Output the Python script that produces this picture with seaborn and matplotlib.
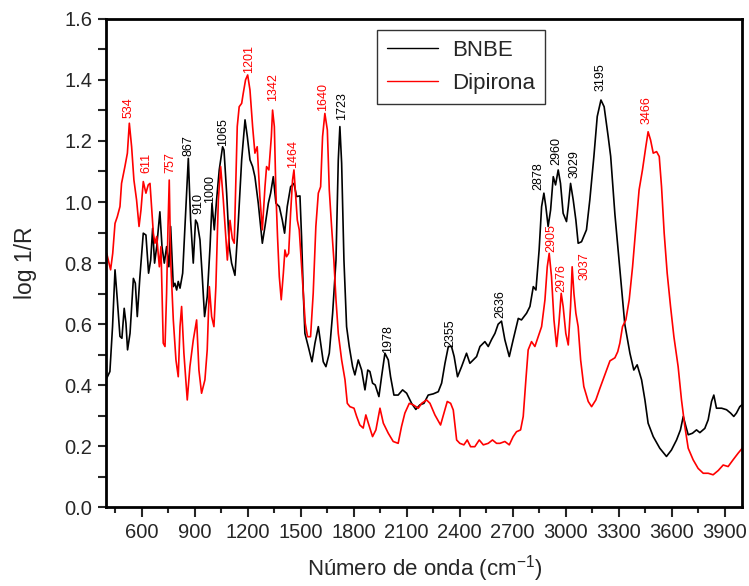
import numpy as np
import pandas as pd
import matplotlib
matplotlib.use("Agg")
import matplotlib.pyplot as plt
from matplotlib.ticker import MultipleLocator, FormatStrFormatter
import seaborn as sns

# ---------------- data ----------------
bnbe_x = [402, 420, 435, 449, 462, 477, 488, 501, 511, 520, 534, 553, 564, 575, 590, 609, 624, 639,
          651, 662, 673, 685, 703, 715, 728, 741, 754, 764, 779, 788, 798, 807, 817, 832, 845, 864,
          877, 892, 905, 915, 930, 943, 956, 971, 987, 998, 1011, 1024, 1039, 1058, 1066, 1081, 1096,
          1109, 1128, 1147, 1166, 1185, 1198, 1213, 1228, 1241, 1260, 1283, 1298, 1317, 1330, 1345,
          1360, 1379, 1396, 1409, 1424, 1443, 1462, 1477, 1496, 1505, 1515, 1524, 1543, 1564, 1581,
          1600, 1613, 1628, 1643, 1662, 1681, 1700, 1713, 1722, 1732, 1745, 1760, 1775, 1794, 1807,
          1826, 1845, 1864, 1880, 1892, 1907, 1922, 1943, 1958, 1977, 1996, 2009, 2028, 2052, 2077,
          2100, 2128, 2152, 2175, 2198, 2222, 2251, 2279, 2298, 2317, 2336, 2354, 2369, 2388, 2411,
          2439, 2458, 2477, 2496, 2515, 2543, 2562, 2581, 2600, 2618, 2637, 2656, 2681, 2703, 2732,
          2750, 2779, 2798, 2817, 2832, 2850, 2864, 2877, 2888, 2901, 2915, 2930, 2943, 2958, 2971,
          2986, 3005, 3015, 3028, 3043, 3058, 3071, 3090, 3118, 3137, 3160, 3179, 3200, 3218, 3241,
          3255, 3279, 3307, 3335, 3364, 3386, 3405, 3430, 3449, 3467, 3496, 3533, 3571, 3599, 3628,
          3650, 3666, 3681, 3694, 3718, 3741, 3760, 3788, 3807, 3826, 3839, 3854, 3883, 3911, 3934,
          3952, 3967, 3986, 3998]
bnbe_y = [0.423, 0.445, 0.592, 0.778, 0.68, 0.56, 0.554, 0.652, 0.603, 0.516, 0.57, 0.75, 0.734, 0.625,
          0.756, 0.898, 0.892, 0.767, 0.81, 0.914, 0.80, 0.854, 0.968, 0.854, 0.80, 0.854, 0.788, 0.92,
          0.723, 0.734, 0.712, 0.74, 0.718, 0.767, 0.92, 1.143, 0.941, 0.80, 0.941, 0.93, 0.876, 0.756,
          0.625, 0.69, 0.854, 0.996, 0.909, 1.007, 1.105, 1.181, 1.17, 1.029, 0.854, 0.80, 0.76, 0.935,
          1.138, 1.269, 1.214, 1.138, 1.116, 1.083, 0.996, 0.865, 0.92, 0.996, 1.029, 1.083, 0.996,
          0.985, 0.941, 0.898, 0.985, 1.05, 1.061, 1.018, 1.02, 0.887, 0.701, 0.57, 0.527, 0.477,
          0.538, 0.592, 0.538, 0.477, 0.461, 0.505, 0.636, 0.81, 1.138, 1.247, 1.127, 0.81, 0.592,
          0.527, 0.461, 0.434, 0.483, 0.45, 0.385, 0.45, 0.445, 0.407, 0.401, 0.363, 0.428, 0.505,
          0.483, 0.428, 0.368, 0.368, 0.385, 0.374, 0.341, 0.321, 0.336, 0.341, 0.368, 0.372, 0.379,
          0.407, 0.472, 0.527, 0.527, 0.494, 0.428, 0.461, 0.505, 0.472, 0.483, 0.494, 0.527, 0.543,
          0.527, 0.55, 0.57, 0.6, 0.61, 0.549, 0.494, 0.549, 0.619, 0.614, 0.636, 0.658, 0.723, 0.712,
          0.843, 0.985, 1.029, 0.985, 0.92, 0.974, 1.083, 1.056, 1.105, 1.061, 0.963, 0.936, 0.985,
          1.061, 1.007, 0.941, 0.865, 0.87, 0.909, 1.007, 1.149, 1.28, 1.334, 1.312, 1.214, 1.15,
          0.96, 0.78, 0.60, 0.505, 0.45, 0.467, 0.418, 0.352, 0.276, 0.232, 0.194, 0.167, 0.188,
          0.221, 0.254, 0.298, 0.265, 0.238, 0.243, 0.254, 0.245, 0.259, 0.287, 0.347, 0.368, 0.325,
          0.325, 0.32, 0.309, 0.298, 0.309, 0.33, 0.336]

dip_x = [402, 411, 424, 436, 449, 462, 477, 486, 505, 519, 530, 543, 556, 571, 585, 596, 609, 624, 637,
         647, 656, 666, 675, 685, 700, 709, 722, 732, 741, 749, 756, 764, 779, 794, 807, 817, 826, 839,
         858, 873, 892, 911, 924, 939, 958, 971, 983, 996, 1009, 1020, 1034, 1047, 1062, 1075, 1085,
         1100, 1113, 1124, 1130, 1141, 1152, 1166, 1175, 1188, 1200, 1213, 1228, 1241, 1254, 1269,
         1283, 1298, 1307, 1320, 1334, 1341, 1351, 1360, 1369, 1379, 1390, 1402, 1411, 1420, 1432,
         1443, 1454, 1462, 1471, 1481, 1492, 1503, 1515, 1526, 1539, 1556, 1571, 1586, 1600, 1613,
         1624, 1637, 1651, 1662, 1675, 1688, 1700, 1713, 1732, 1751, 1764, 1779, 1802, 1817, 1835,
         1854, 1869, 1883, 1907, 1926, 1949, 1968, 1996, 2024, 2052, 2071, 2090, 2115, 2137, 2166,
         2185, 2213, 2232, 2260, 2292, 2311, 2330, 2349, 2364, 2383, 2401, 2424, 2443, 2462, 2486,
         2511, 2534, 2562, 2586, 2609, 2628, 2656, 2681, 2703, 2722, 2745, 2760, 2775, 2788, 2807,
         2826, 2845, 2864, 2883, 2896, 2907, 2920, 2934, 2949, 2962, 2975, 2986, 3001, 3015, 3028,
         3037, 3047, 3058, 3071, 3085, 3103, 3128, 3147, 3171, 3194, 3222, 3251, 3279, 3295, 3307,
         3322, 3341, 3360, 3379, 3398, 3416, 3435, 3454, 3467, 3481, 3496, 3515, 3530, 3543, 3558,
         3575, 3594, 3613, 3637, 3656, 3675, 3694, 3722, 3750, 3779, 3807, 3835, 3864, 3892, 3920,
         3948, 3977, 4000]
dip_y = [0.832, 0.81, 0.778, 0.832, 0.93, 0.952, 0.985, 1.061, 1.116, 1.16, 1.258, 1.181, 1.072, 1.007,
         0.92, 0.974, 1.067, 1.029, 1.056, 1.061, 0.985, 0.898, 0.865, 0.887, 0.788, 0.854, 0.538,
         0.527, 0.701, 0.92, 1.072, 0.81, 0.614, 0.483, 0.428, 0.592, 0.658, 0.505, 0.352, 0.461,
         0.548, 0.614, 0.45, 0.374, 0.418, 0.516, 0.723, 0.625, 0.592, 0.723, 1.007, 1.116, 1.007,
         0.898, 0.81, 0.94, 0.88, 0.865, 1.0, 1.247, 1.312, 1.323, 1.356, 1.4, 1.416, 1.367, 1.247,
         1.16, 1.181, 1.018, 0.909, 1.05, 1.116, 1.105, 1.214, 1.301, 1.247, 1.029, 0.887, 0.756,
         0.68, 0.767, 0.843, 0.821, 0.832, 0.963, 1.072, 1.105, 1.029, 0.941, 0.909, 0.81, 0.701,
         0.603, 0.559, 0.559, 0.701, 0.92, 1.029, 1.05, 1.214, 1.29, 1.236, 1.04, 0.92, 0.81, 0.68,
         0.57, 0.483, 0.418, 0.341, 0.33, 0.325, 0.298, 0.27, 0.26, 0.303, 0.276, 0.232, 0.254, 0.325,
         0.276, 0.243, 0.216, 0.21, 0.265, 0.309, 0.341, 0.336, 0.325, 0.341, 0.352, 0.341, 0.303,
         0.27, 0.309, 0.347, 0.341, 0.319, 0.221, 0.21, 0.205, 0.221, 0.199, 0.199, 0.221, 0.205,
         0.21, 0.221, 0.21, 0.21, 0.216, 0.205, 0.232, 0.248, 0.254, 0.298, 0.418, 0.516, 0.543,
         0.527, 0.559, 0.592, 0.68, 0.788, 0.832, 0.756, 0.614, 0.527, 0.603, 0.701, 0.658, 0.57,
         0.532, 0.658, 0.788, 0.701, 0.636, 0.592, 0.483, 0.396, 0.347, 0.33, 0.352, 0.39, 0.434,
         0.48, 0.49, 0.51, 0.538, 0.592, 0.614, 0.68, 0.788, 0.92, 1.04, 1.105, 1.181, 1.23, 1.203,
         1.16, 1.165, 1.149, 1.05, 0.898, 0.767, 0.658, 0.559, 0.461, 0.352, 0.265, 0.194, 0.156,
         0.128, 0.112, 0.112, 0.107, 0.121, 0.139, 0.134, 0.156, 0.178, 0.194]

series_names = ["BNBE", "Dipirona"]
series_colors = ["black", "red"]

# peak annotations: label, x position, y (bottom of text), series colour
peak_labels = ["534", "611", "757", "867", "910", "1000", "1065", "1201", "1342", "1464", "1640",
               "1723", "1978", "2355", "2636", "2878", "2960", "3029", "3195", "2905", "2976",
               "3037", "3466"]
peak_x = [528, 625, 764, 864, 920, 987, 1058, 1207, 1343, 1456, 1625, 1733, 1996, 2345, 2628,
          2845, 2949, 3052, 3200, 2920, 2977, 3109, 3458]
peak_y = [1.275, 1.095, 1.095, 1.152, 0.962, 0.998, 1.184, 1.423, 1.332, 1.113, 1.298, 1.268,
          0.506, 0.525, 0.62, 1.04, 1.12, 1.078, 1.365, 0.836, 0.706, 0.745, 1.256]
peak_series = ["Dipirona", "Dipirona", "Dipirona", "BNBE", "BNBE", "BNBE", "BNBE", "Dipirona",
               "Dipirona", "Dipirona", "Dipirona", "BNBE", "BNBE", "BNBE", "BNBE", "BNBE", "BNBE",
               "BNBE", "BNBE", "Dipirona", "Dipirona", "Dipirona", "Dipirona"]

# ---------------- plot ----------------
sns.set_style("ticks")
plt.rcParams["font.family"] = ["Liberation Sans", "DejaVu Sans"]

df = pd.concat([
    pd.DataFrame({"x": bnbe_x, "y": bnbe_y, "serie": "BNBE"}),
    pd.DataFrame({"x": dip_x, "y": dip_y, "serie": "Dipirona"}),
], ignore_index=True)

fig = plt.figure(figsize=(7.49, 5.86), dpi=100)
ax = fig.add_axes([0.142, 0.134, 0.849, 0.834])

palette = dict(zip(series_names, series_colors))
sns.lineplot(data=df, x="x", y="y", hue="serie", palette=palette, sort=False,
             estimator=None, linewidth=1.2, ax=ax)

for lab, px, py, s in zip(peak_labels, peak_x, peak_y, peak_series):
    ax.text(px, py, lab, rotation=90, ha="center", va="bottom", fontsize=9,
            color=palette[s])

ax.set_xlim(400, 4000)
ax.set_ylim(0.0, 1.6)
ax.xaxis.set_major_locator(MultipleLocator(300))
ax.xaxis.set_minor_locator(MultipleLocator(150))
ax.yaxis.set_major_locator(MultipleLocator(0.2))
ax.yaxis.set_minor_locator(MultipleLocator(0.1))
ax.yaxis.set_major_formatter(FormatStrFormatter("%.1f"))

ax.tick_params(which="major", direction="out", length=7, width=1.5, labelsize=14.5, pad=4)
ax.tick_params(axis="x", which="minor", direction="out", length=4, width=1.5)
ax.tick_params(axis="y", which="minor", direction="out", length=6, width=1.5)
ax.tick_params(axis="y", which="major", length=6)
for sp in ax.spines.values():
    sp.set_linewidth(2)
    sp.set_color("black")

ax.set_xlabel("Número de onda (cm$^{\\mathregular{-1}}$)", fontsize=16, labelpad=8)
ax.set_ylabel("log 1/R", fontsize=16.5, labelpad=20)

leg = ax.legend(loc="upper left", bbox_to_anchor=(0.426, 0.977), borderaxespad=0,
                fontsize=16, frameon=True, fancybox=False, handlelength=2.3,
                borderpad=0.45, labelspacing=0.55, handletextpad=0.6)
leg.get_frame().set_edgecolor("black")
leg.get_frame().set_linewidth(1.0)
for line in leg.get_lines():
    line.set_linewidth(1.0)
leg.set_title(None)

fig.savefig("out.png", dpi=100)
